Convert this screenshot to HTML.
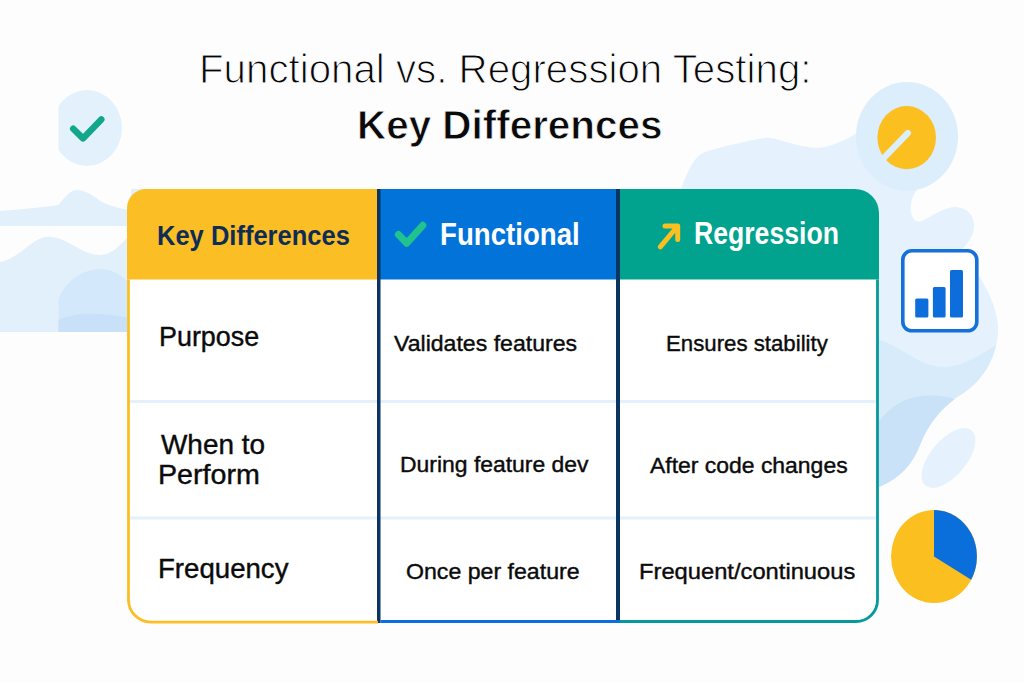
<!DOCTYPE html>
<html><head><meta charset="utf-8"><style>
html,body{margin:0;padding:0;}
body{width:1024px;height:683px;overflow:hidden;background:#FDFDFE;position:relative;font-family:"Liberation Sans",sans-serif;}
.abs{position:absolute;left:0;top:0;}
.t{position:absolute;white-space:nowrap;line-height:1;transform-origin:0 0;}
</style></head><body>
<svg class="abs" width="1024" height="683" viewBox="0 0 1024 683">
 <!-- left blobs -->
 <path d="M0 211 C25 209 45 207 58.5 205 C64 198 70 190 77 190 C90 190 98 202 109 205 C116 207 122 209 130 210 L130 226 L0 226 Z" fill="#E2F0FC"/>
 <path d="M0 262 C20 258 30 240 45 237 C65 234 80 255 100 255 C112 255 120 245 130 235 L130 332 L0 332 Z" fill="#E2F0FC"/>
 <path d="M58.5 332 L58.5 300 C65 280 85 269 100 269 C115 269 125 278 130 285 L130 332 Z" fill="#D3E8FA"/>
 <path d="M58.5 332 L58.5 320 C75 312 100 312 130 318 L130 332 Z" fill="#C8E1F8"/>
 <rect x="131" y="189" width="30" height="150" fill="#E2F0FC"/>
 <!-- left check badge -->
 <defs><clipPath id="cb"><rect x="58.5" y="80" width="80" height="100"/></clipPath></defs>
 <ellipse cx="87" cy="128" rx="35" ry="38" fill="#E3F1FC" clip-path="url(#cb)"/>
 <path d="M73.2 128.7 L83 138.4 L101.3 119.4" fill="none" stroke="#12A68B" stroke-width="6.5" stroke-linecap="round" stroke-linejoin="round"/>
 <!-- right main blob -->
 <path d="M681 189 C688 170 695 155 705 152 C725 146 750 140 768 137.5 C778 139 785 142 792 143.5 C805 147 815 149 825 147 C840 143 850 138 858 132
          L917 190 C912 196 910 205 911 212 C913 222 918 223 924 220 C935 214 945 207 956 207 C968 208 975 216 974 228 C973 238 966 244 962 250
          C975 270 995 295 998 325 C1000 360 975 385 952 400 C935 412 925 430 920 445 C912 465 900 478 879 487 L800 487 L800 189 Z" fill="#E5F2FD"/>
 <ellipse cx="907" cy="136.4" rx="51" ry="54.4" fill="#DCEDFB"/>
 <path d="M879 340 C900 345 920 368 945 367 C965 366 985 352 996 345 C990 375 968 392 952 400 C935 412 925 430 920 445 C912 465 900 478 879 487 Z" fill="#D7EBFB"/>
 <path d="M879 421 C888 410 898 401 915 397 C932 394 945 396 955 399 C940 410 928 425 920 445 C912 465 900 478 879 487 Z" fill="#CAE2F8"/>
 <ellipse cx="948.5" cy="458" rx="36" ry="18" transform="rotate(-50 948.5 458)" fill="#E5F2FD"/>
 <!-- yellow gauge -->
 <ellipse cx="906.7" cy="137.6" rx="29.3" ry="31.6" fill="#FBBF1F"/>
 <path d="M877.5 164.5 L907.9 133" stroke="#DCEDFB" stroke-width="6.2" stroke-linecap="round"/>
 <!-- bar chart icon -->
 <rect x="902.8" y="250.8" width="74" height="80" rx="9" fill="#fff" stroke="#1570DA" stroke-width="3.6"/>
 <rect x="915.2" y="298.6" width="13.2" height="19" rx="1.5" fill="#0D6EDB"/>
 <rect x="932.9" y="287.1" width="12.7" height="30.5" rx="1.5" fill="#0D6EDB"/>
 <rect x="950" y="270" width="13" height="47.6" rx="1.5" fill="#0D6EDB"/>
 <!-- pie -->
 <ellipse cx="934" cy="556.5" rx="43" ry="46.5" fill="#FBBF1F"/>
 <path d="M934 556.5 L934 510 A43 46.5 0 0 1 971.2 579.7 Z" fill="#0B6FDB"/>
</svg>
<svg class="abs" width="1024" height="683" viewBox="0 0 1024 683">
 <defs>
  <clipPath id="tc"><path d="M127 208 A19 19 0 0 1 146 189 L855 189 A24 24 0 0 1 879 213 L879 600 A23 23 0 0 1 856 623 L151 623 A24 24 0 0 1 127 599 Z"/></clipPath>
 </defs>
 <g clip-path="url(#tc)">
  <rect x="127" y="189" width="752" height="434" fill="#FFFFFF"/>
  <rect x="127" y="189" width="250" height="90.5" fill="#FBBE24"/>
  <rect x="379" y="189" width="238" height="90.5" fill="#0273D8"/>
  <rect x="619" y="189" width="260" height="90.5" fill="#02A38E"/>
  <rect x="127" y="400" width="752" height="3" fill="#E4F0FB"/>
  <rect x="127" y="516.5" width="752" height="3" fill="#E4F0FB"/>
  <rect x="377" y="189" width="3.5" height="435" fill="#0A3461"/>
  <rect x="616" y="189" width="4" height="431" fill="#0A3461"/>
 </g>
 <path d="M128.5 279.5 L128.5 599 A22.5 22.5 0 0 0 151 622.1 L378 622.1" fill="none" stroke="#FBBE24" stroke-width="2.8"/>
 <path d="M380.5 621.5 L620 621.5" fill="none" stroke="#0A6EE2" stroke-width="2.8"/>
 <path d="M620 621.5 L856 621.5 A21.5 21.5 0 0 0 877.5 600 L877.5 279.5" fill="none" stroke="#06999A" stroke-width="2.8"/>
</svg>
<svg class="abs" width="1024" height="683" viewBox="0 0 1024 683">
 <path d="M398.4 234.5 L406.8 243.2 L422.8 225.3" fill="none" stroke="#20C38D" stroke-width="7" stroke-linecap="round" stroke-linejoin="round"/>
 <path d="M660.3 246.8 L676.5 227.5 M665 226 L677.7 226 L677.7 239.5" fill="none" stroke="#FBBF1F" stroke-width="5" stroke-linecap="round" stroke-linejoin="round"/>
</svg>
<div class="t" style="left:198.69px;top:48.00px;font-size:41.5px;font-weight:400;color:#050505;transform:scaleX(0.9702);-webkit-text-stroke:1.1px #FDFDFE;">Functional vs. Regression Testing:</div>
<div class="t" style="left:357.26px;top:105.00px;font-size:41.25px;font-weight:700;color:#0A0A0A;transform:scaleX(0.9795);-webkit-text-stroke:0.8px #FDFDFE;">Key Differences</div>
<div class="t" style="left:157.11px;top:222.80px;font-size:27.0px;font-weight:700;color:#0F2C56;transform:scaleX(0.9448);">Key Differences</div>
<div class="t" style="left:439.95px;top:218.70px;font-size:31.5px;font-weight:700;color:#FFFFFF;transform:scaleX(0.8774);">Functional</div>
<div class="t" style="left:694.21px;top:218.40px;font-size:31.5px;font-weight:700;color:#FFFFFF;transform:scaleX(0.8446);">Regression</div>
<div class="t" style="left:159.13px;top:322.70px;font-size:27.25px;font-weight:400;color:#0B0B0B;transform:scaleX(0.9867);-webkit-text-stroke:0.4px #0B0B0B;">Purpose</div>
<div class="t" style="left:160.50px;top:431.20px;font-size:27.25px;font-weight:400;color:#0B0B0B;transform:scaleX(1.0250);-webkit-text-stroke:0.4px #0B0B0B;">When to</div>
<div class="t" style="left:158.40px;top:461.00px;font-size:27.25px;font-weight:400;color:#0B0B0B;transform:scaleX(1.0505);-webkit-text-stroke:0.4px #0B0B0B;">Perform</div>
<div class="t" style="left:158.47px;top:554.80px;font-size:27.25px;font-weight:400;color:#0B0B0B;transform:scaleX(1.0135);-webkit-text-stroke:0.4px #0B0B0B;">Frequency</div>
<div class="t" style="left:394.30px;top:332.60px;font-size:22.5px;font-weight:400;color:#0B0B0B;transform:scaleX(1.0258);-webkit-text-stroke:0.4px #0B0B0B;">Validates features</div>
<div class="t" style="left:665.72px;top:332.50px;font-size:22.5px;font-weight:400;color:#0B0B0B;transform:scaleX(0.9877);-webkit-text-stroke:0.4px #0B0B0B;">Ensures stability</div>
<div class="t" style="left:399.56px;top:454.30px;font-size:22.5px;font-weight:400;color:#0B0B0B;transform:scaleX(1.0186);-webkit-text-stroke:0.4px #0B0B0B;">During feature dev</div>
<div class="t" style="left:650.00px;top:454.50px;font-size:22.5px;font-weight:400;color:#0B0B0B;transform:scaleX(1.0192);-webkit-text-stroke:0.4px #0B0B0B;">After code changes</div>
<div class="t" style="left:405.97px;top:560.80px;font-size:22.5px;font-weight:400;color:#0B0B0B;transform:scaleX(1.0281);-webkit-text-stroke:0.4px #0B0B0B;">Once per feature</div>
<div class="t" style="left:638.99px;top:560.50px;font-size:22.5px;font-weight:400;color:#0B0B0B;transform:scaleX(1.0545);-webkit-text-stroke:0.4px #0B0B0B;">Frequent/continuous</div>
</body></html>
